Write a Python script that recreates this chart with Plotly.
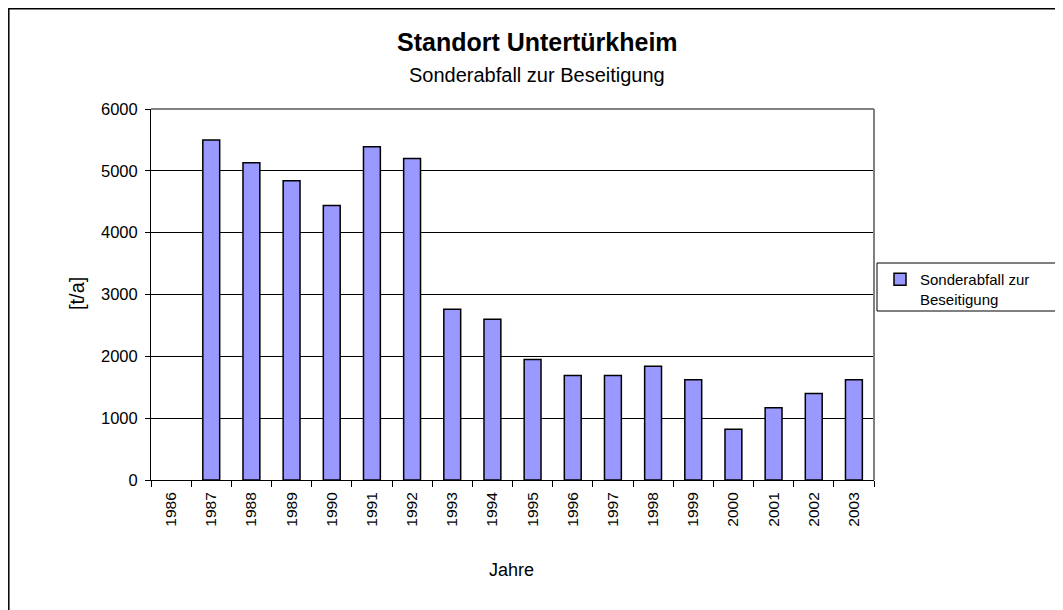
import plotly.graph_objects as go

years = ["1986", "1987", "1988", "1989", "1990", "1991", "1992", "1993", "1994",
         "1995", "1996", "1997", "1998", "1999", "2000", "2001", "2002", "2003"]
sonderabfall = [None, 5500, 5130, 4840, 4440, 5390, 5200, 2760, 2600,
                1950, 1690, 1690, 1840, 1620, 820, 1170, 1400, 1620]
y_ticks = [0, 1000, 2000, 3000, 4000, 5000, 6000]

title = "Standort Untertürkheim"
subtitle = "Sonderabfall zur Beseitigung"
series_name = "Sonderabfall zur<br>Beseitigung"
x_title = "Jahre"
y_title = "[t/a]"

OFF = 8  # page body margin of the html page
W, H = 1063 - OFF, 610 - OFF
L, R, T, B = 151, 874, 109, 480  # plot area in screen pixels


def px(x):
    return (x - L) / (R - L)


def py(y):
    return (B - y) / (B - T)


FONT = "Liberation Sans, Arial, sans-serif"

fig = go.Figure()
fig.add_trace(go.Bar(
    x=years, y=sonderabfall, name=series_name,
    marker=dict(color="#9999FF", line=dict(color="#000000", width=1.5)),
    showlegend=True,
))

fig.update_layout(
    width=W, height=H,
    margin=dict(l=L - OFF, r=1063 - R, t=T - OFF, b=610 - B, pad=0),
    paper_bgcolor="white", plot_bgcolor="white",
    bargap=0.58,
    font=dict(family=FONT, color="black"),
    showlegend=True,
    legend=dict(x=px(880), y=py(263), xanchor="left", yanchor="top",
                valign="top", font=dict(size=15, family=FONT),
                bgcolor="rgba(0,0,0,0)", borderwidth=0, tracegroupgap=0),
    xaxis=dict(type="category", categoryorder="array", categoryarray=years,
               range=[-0.5, len(years) - 0.5],
               showgrid=False, showline=True, linecolor="black", linewidth=1,
               ticks="outside", tickson="boundaries", ticklen=6, tickcolor="black",
               tickangle=-90, ticklabelstandoff=5,
               tickfont=dict(size=15.5, family=FONT), zeroline=False),
    yaxis=dict(range=[0, 6000], tickvals=y_ticks, showgrid=True,
               gridcolor="black", gridwidth=1, showline=True, linecolor="black",
               linewidth=1, ticks="outside", ticklen=5, tickcolor="black",
               ticklabelstandoff=4,
               tickfont=dict(size=16.5, family=FONT), zeroline=False),
    shapes=[
        # plot area top and right border (grey)
        dict(type="line", xref="paper", yref="paper", x0=0, x1=1, y0=1, y1=1,
             line=dict(color="#808080", width=2)),
        dict(type="line", xref="paper", yref="paper", x0=1, x1=1, y0=0, y1=1,
             line=dict(color="#808080", width=2)),
        # legend box
        dict(type="rect", xref="paper", yref="paper", x0=px(877), x1=px(1075),
             y0=py(311), y1=py(263), line=dict(color="black", width=1)),
        # outer chart frame
        dict(type="rect", xref="paper", yref="paper", x0=px(8.8), x1=px(1080),
             y0=py(625), y1=py(8.8), line=dict(color="black", width=1.5)),
    ],
    annotations=[
        dict(text="<b>" + title + "</b>", xref="paper", yref="paper", x=px(537), y=py(42),
             showarrow=False, xanchor="center", yanchor="middle",
             font=dict(size=25, family=FONT)),
        dict(text=subtitle, xref="paper", yref="paper", x=px(537), y=py(75),
             showarrow=False, xanchor="center", yanchor="middle",
             font=dict(size=20, family=FONT)),
        dict(text=x_title, xref="paper", yref="paper", x=px(511), y=py(570),
             showarrow=False, xanchor="center", yanchor="middle",
             font=dict(size=18, family=FONT)),
        dict(text=y_title, xref="paper", yref="paper", x=px(77), y=py(294),
             showarrow=False, xanchor="center", yanchor="middle", textangle=-90,
             font=dict(size=20, family=FONT)),
    ],
)

fig.write_html("out.html")
